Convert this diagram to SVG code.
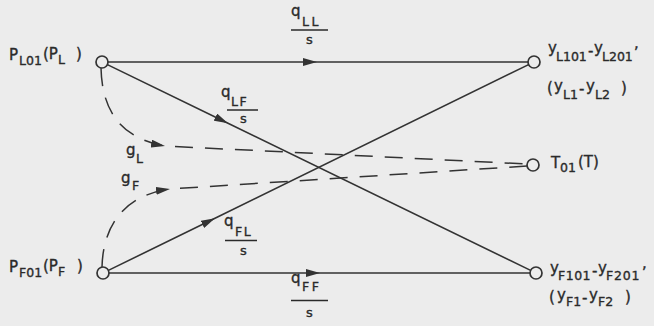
<svg xmlns="http://www.w3.org/2000/svg" width="654" height="326" viewBox="0 0 654 326">
<defs>
<marker id="arr" viewBox="0 0 14 8" refX="14" refY="4" markerWidth="14" markerHeight="8" markerUnits="userSpaceOnUse" orient="auto">
<path d="M0,0 L14,4 L0,8 z" fill="#333333"/>
</marker>
</defs>
<style>
.bg{fill:#ececec}
.ln{fill:none;stroke:#333333;stroke-width:1.6}
.dash{fill:none;stroke:#333333;stroke-width:1.5;stroke-dasharray:18 12}
.nd{fill:#ececec;stroke:#333333;stroke-width:1.7}
text{font-family:"DejaVu Sans","Liberation Sans",sans-serif;fill:#2a2a2a;stroke:#2a2a2a;stroke-width:0.35;font-size:15px}
.sb{font-size:12.5px}
.q{font-size:15px}
.den{font-size:13px}
.bar{stroke:#2a2a2a;stroke-width:1.5}
</style>
<rect class="bg" x="0" y="0" width="654" height="326"/>
<g id="connectors">
<path class="ln" d="M108,62 L317,62 L528,62" marker-mid="url(#arr)"/>
<path class="ln" d="M109,273 L320,273 L530,273" marker-mid="url(#arr)"/>
<path class="ln" d="M107.4,64.6 L228,123.3 L530.6,270.4" marker-mid="url(#arr)"/>
<path class="ln" d="M108.4,270.4 L215,218.2 L528.6,64.6" marker-mid="url(#arr)"/>
<path class="dash" d="M101,68 C102,110 120,138 165,146" marker-end="url(#arr)"/>
<path class="dash" d="M165,146 L527,164" stroke-dashoffset="20"/>
<path class="dash" d="M102,267 C103,225 125,195 170,189" marker-end="url(#arr)"/>
<path class="dash" d="M170,189 L527,166" stroke-dashoffset="20"/>
</g>
<g id="edge-labels">
<text><tspan class="q" x="291" y="16">q</tspan><tspan class="sb" x="302" y="26" style="letter-spacing:2.5px">LL</tspan></text>
<line class="bar" x1="291" y1="30" x2="328" y2="30"/>
<text class="den" x="306" y="44">s</text>
<text><tspan class="q" x="221" y="97">q</tspan><tspan class="sb" x="231" y="106" style="letter-spacing:1.5px">LF</tspan></text>
<line class="bar" x1="227" y1="110" x2="258" y2="110"/>
<text class="den" x="240" y="123">s</text>
<text><tspan class="q" x="224" y="226">q</tspan><tspan class="sb" x="235" y="236" style="letter-spacing:1.5px">FL</tspan></text>
<line class="bar" x1="225" y1="240.5" x2="257" y2="240.5"/>
<text class="den" x="240" y="255">s</text>
<text><tspan class="q" x="291" y="283">q</tspan><tspan class="sb" x="302" y="291" style="letter-spacing:2.5px">FF</tspan></text>
<line class="bar" x1="291" y1="300.5" x2="328" y2="300.5"/>
<text class="den" x="306" y="317">s</text>
<text><tspan class="q" x="126" y="155">g</tspan><tspan class="sb" x="136" y="163">L</tspan></text>
<text><tspan class="q" x="121" y="183">g</tspan><tspan class="sb" x="132" y="190">F</tspan></text>
</g>
<g id="node-PL">
<circle class="nd" cx="102" cy="62" r="6"/>
<text><tspan x="9" y="60">P</tspan><tspan class="sb" x="19" y="65">L01</tspan><tspan x="43" y="59">(P</tspan><tspan class="sb" x="58" y="64">L</tspan><tspan x="76" y="59">)</tspan></text>
</g>
<g id="node-PF">
<circle class="nd" cx="103" cy="273" r="6"/>
<text><tspan x="9" y="272">P</tspan><tspan class="sb" x="19" y="277">F01</tspan><tspan x="43" y="271">(P</tspan><tspan class="sb" x="58" y="276">F</tspan><tspan x="77" y="271">)</tspan></text>
</g>
<g id="node-YL">
<circle class="nd" cx="534" cy="62" r="6"/>
<text><tspan x="548" y="53">y</tspan><tspan class="sb" x="556" y="61">L101</tspan><tspan x="588" y="56">-</tspan><tspan x="594" y="53">y</tspan><tspan class="sb" x="602" y="61">L201</tspan><tspan x="634" y="48">,</tspan></text>
<text><tspan x="547" y="93">(</tspan><tspan x="554" y="91">y</tspan><tspan class="sb" x="563" y="99">L1</tspan><tspan x="579" y="94">-</tspan><tspan x="586" y="91">y</tspan><tspan class="sb" x="595" y="99">L2</tspan><tspan x="621" y="93">)</tspan></text>
</g>
<g id="node-YF">
<circle class="nd" cx="536" cy="273" r="6"/>
<text><tspan x="550" y="273">y</tspan><tspan class="sb" x="558" y="280" style="letter-spacing:0.5px">F101</tspan><tspan x="592" y="276">-</tspan><tspan x="598" y="273">y</tspan><tspan class="sb" x="606" y="280" style="letter-spacing:0.8px">F201</tspan><tspan x="642" y="268">,</tspan></text>
<text><tspan x="549" y="302">(</tspan><tspan x="557" y="300">y</tspan><tspan class="sb" x="566" y="306">F1</tspan><tspan x="582" y="303">-</tspan><tspan x="589" y="300">y</tspan><tspan class="sb" x="598" y="306">F2</tspan><tspan x="625" y="302">)</tspan></text>
</g>
<g id="node-T">
<circle class="nd" cx="533" cy="165" r="6"/>
<text><tspan x="551" y="168">T</tspan><tspan class="sb" x="560" y="172">01</tspan><tspan x="578" y="167">(T)</tspan></text>
</g>
</svg>
